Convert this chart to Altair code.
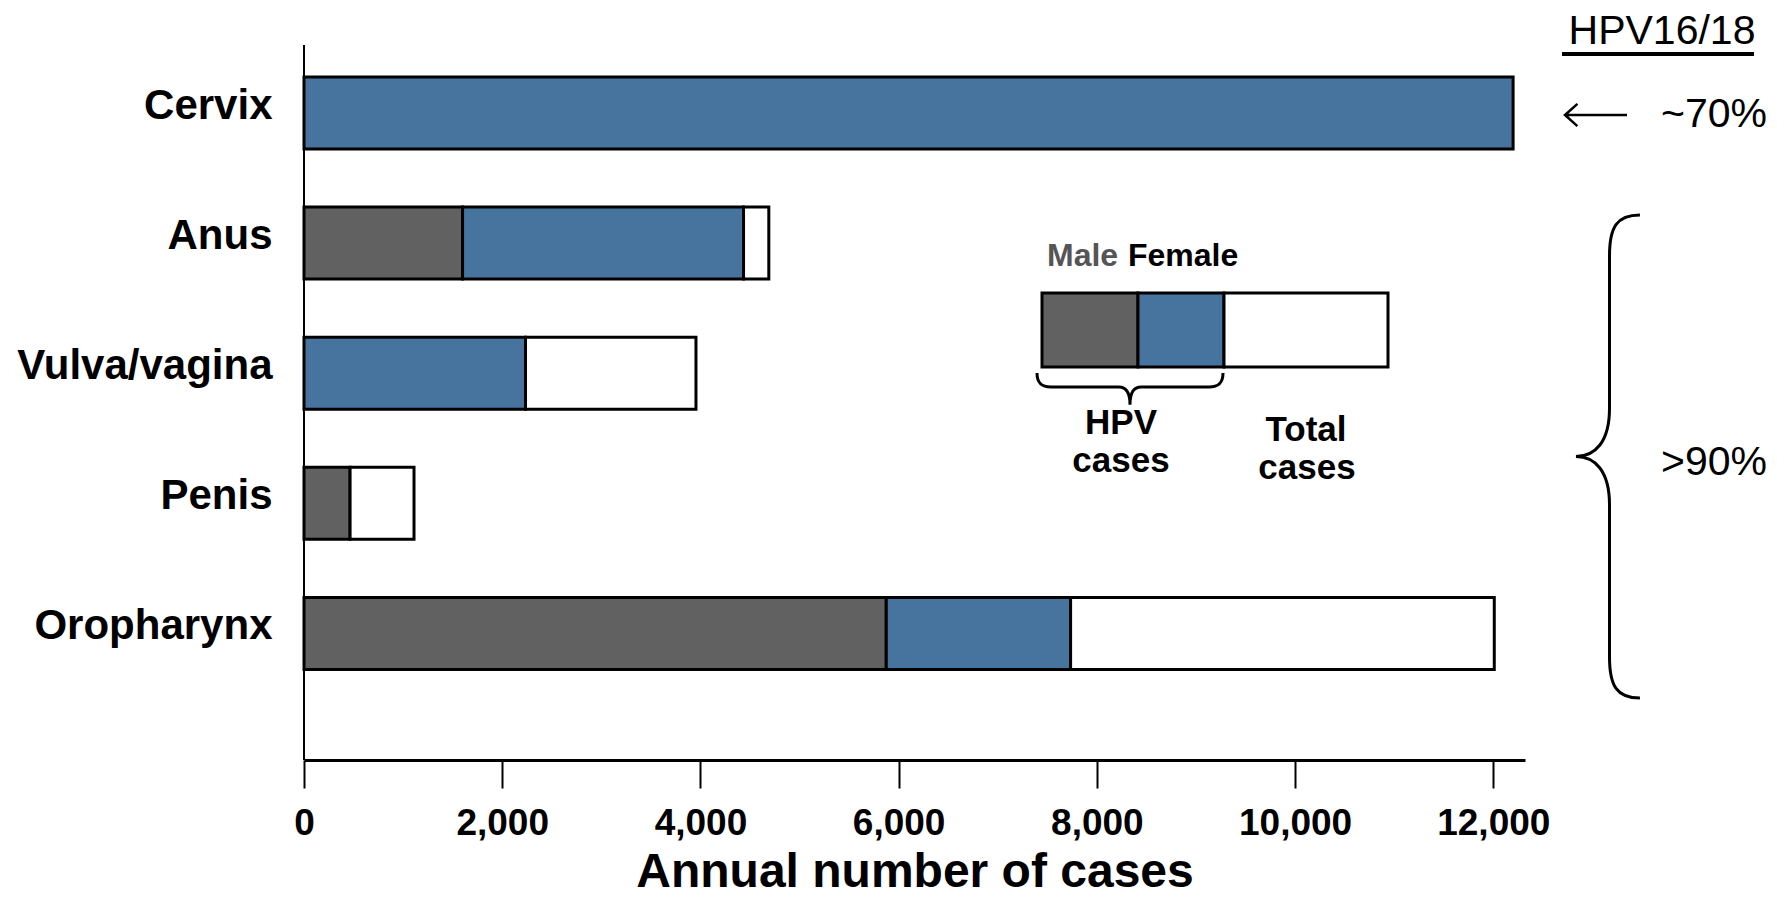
import altair as alt
import pandas as pd

# ---- data ----
sites = ["Cervix", "Anus", "Vulva/vagina", "Penis", "Oropharynx"]
male_hpv = [0, 1600, 0, 465, 5875]
female_hpv = [12200, 2835, 2235, 0, 1860]
total_cases = [12200, 4690, 3955, 1110, 12010]
x_ticks = [0, 2000, 4000, 6000, 8000, 10000, 12000]

segment_names = ["Male", "Female", "Other"]
segment_colors = ["#616161", "#47749F", "#FFFFFF"]

rows = []
for s, m, f, t in zip(sites, male_hpv, female_hpv, total_cases):
    parts = [("Male", 0, m), ("Female", m, m + f), ("Other", m + f, t)]
    for name, a, b in parts:
        if b - a > 0:
            rows.append({"site": s, "segment": name, "start": a, "end": b})
df = pd.DataFrame(rows)

FONT = "Liberation Sans"
W, H = 1221, 715
one = pd.DataFrame({"k": [0]})

bars = alt.Chart(df).mark_bar(stroke="black", strokeWidth=3).encode(
    y=alt.Y("site:N", sort=sites,
            scale=alt.Scale(range=[32, 624.4], paddingInner=0.447, paddingOuter=0),
            axis=alt.Axis(title=None, domain=False, ticks=False, tickSize=0,
                          labelPadding=32, labelFont=FONT, labelFontSize=42,
                          labelFontWeight="bold", labelColor="black", labelLimit=500,
                          labelOffset=-7, labelBaseline="middle")),
    x=alt.X("start:Q",
            scale=alt.Scale(domain=[0, 12320], nice=False, zero=True),
            axis=alt.Axis(values=x_ticks, format=",d", grid=False,
                          title="Annual number of cases", titleFont=FONT,
                          titleFontSize=48, titleFontWeight="bold", titleColor="black",
                          titlePadding=7,
                          domainColor="black", domainWidth=3,
                          tickColor="black", tickWidth=2, tickSize=28,
                          labelFont=FONT, labelFontSize=37, labelFontWeight="bold",
                          labelColor="black", labelPadding=17, labelFlush=False,
                          labelOverlap=False)),
    x2="end:Q",
    color=alt.Color("segment:N",
                    scale=alt.Scale(domain=segment_names, range=segment_colors),
                    legend=None),
)

yaxis_line = alt.Chart(one).mark_rule(color="black", strokeWidth=2).encode(
    x=alt.value(0), y=alt.value(0), y2=alt.value(H))

# ---- inset legend ----
leg_gray = alt.Chart(one).mark_rect(fill=segment_colors[0], stroke="black", strokeWidth=3).encode(
    x=alt.value(738), x2=alt.value(834), y=alt.value(248), y2=alt.value(322))
leg_blue = alt.Chart(one).mark_rect(fill=segment_colors[1], stroke="black", strokeWidth=3).encode(
    x=alt.value(834), x2=alt.value(920), y=alt.value(248), y2=alt.value(322))
leg_white = alt.Chart(one).mark_rect(fill=segment_colors[2], stroke="black", strokeWidth=3).encode(
    x=alt.value(920), x2=alt.value(1084), y=alt.value(248), y2=alt.value(322))

txt_male = alt.Chart(one).mark_text(text="Male", font=FONT, fontSize=32, fontWeight="bold",
                                    color="#555555", align="left", baseline="alphabetic").encode(
    x=alt.value(743), y=alt.value(221))
txt_female = alt.Chart(one).mark_text(text="Female", font=FONT, fontSize=32, fontWeight="bold",
                                      color="black", align="left", baseline="alphabetic").encode(
    x=alt.value(824), y=alt.value(221))

small_brace = ("M -1 -0.15 C -1 -0.04 -0.95 0 -0.85 0 L -0.12 0 C -0.04 0 0 0.06 0 0.19 "
               "C 0 0.06 0.04 0 0.12 0 L 0.85 0 C 0.95 0 1 -0.04 1 -0.15")
brace1 = alt.Chart(one).mark_point(shape=small_brace, size=186 * 186, filled=False,
                                   stroke="black", strokeWidth=3, opacity=1).encode(
    x=alt.value(826), y=alt.value(342))

txt_hpv_a = alt.Chart(one).mark_text(text="HPV", font=FONT, fontSize=35, fontWeight="bold",
                                     color="black", align="center", baseline="alphabetic").encode(
    x=alt.value(817), y=alt.value(389))
txt_hpv_b = alt.Chart(one).mark_text(text="cases", font=FONT, fontSize=35, fontWeight="bold",
                                     color="black", align="center", baseline="alphabetic").encode(
    x=alt.value(817), y=alt.value(427))
txt_total_a = alt.Chart(one).mark_text(text="Total", font=FONT, fontSize=35, fontWeight="bold",
                                       color="black", align="center", baseline="alphabetic").encode(
    x=alt.value(1002), y=alt.value(396))
txt_total_b = alt.Chart(one).mark_text(text="cases", font=FONT, fontSize=35, fontWeight="bold",
                                       color="black", align="center", baseline="alphabetic").encode(
    x=alt.value(1003), y=alt.value(434))

# ---- right-hand annotations ----
txt_hpv1618 = alt.Chart(one).mark_text(text="HPV16/18", font=FONT, fontSize=41,
                                       color="black", align="center", baseline="alphabetic").encode(
    x=alt.value(1358), y=alt.value(-1))
underline = alt.Chart(one).mark_rule(color="black", strokeWidth=4).encode(
    x=alt.value(1258), x2=alt.value(1450), y=alt.value(9))

arrow_path = "M 1 0 L -1 0 M -0.6 -0.36 L -1 0 L -0.6 0.36"
arrow = alt.Chart(one).mark_point(shape=arrow_path, size=62 * 62, filled=False,
                                  stroke="black", strokeWidth=2.5, opacity=1).encode(
    x=alt.value(1292), y=alt.value(70))
txt70 = alt.Chart(one).mark_text(text="~70%", font=FONT, fontSize=41, color="black",
                                 align="left", baseline="alphabetic").encode(
    x=alt.value(1357), y=alt.value(82))

big_brace = ("M 0.126 -1 C 0.03 -1 0 -0.95 0 -0.83 L 0 -0.2 C 0 -0.06 -0.06 0 -0.139 0 "
             "C -0.06 0 0 0.06 0 0.2 L 0 0.83 C 0 0.95 0.03 1 0.126 1")
brace2 = alt.Chart(one).mark_point(shape=big_brace, size=483 * 483, filled=False,
                                   stroke="black", strokeWidth=3, opacity=1).encode(
    x=alt.value(1305.5), y=alt.value(411.5))
txt90 = alt.Chart(one).mark_text(text=">90%", font=FONT, fontSize=41, color="black",
                                 align="left", baseline="alphabetic").encode(
    x=alt.value(1357), y=alt.value(430))

chart = alt.layer(
    bars, yaxis_line,
    leg_gray, leg_blue, leg_white, txt_male, txt_female, brace1,
    txt_hpv_a, txt_hpv_b, txt_total_a, txt_total_b,
    txt_hpv1618, underline, arrow, txt70, brace2, txt90,
).properties(
    width=W, height=H,
    autosize="none",
    padding={"left": 296, "top": 37, "right": 249, "bottom": 141},
    background="white",
).configure_view(stroke=None)

chart.save("out.html", embed_options={"renderer": "svg", "actions": False})
